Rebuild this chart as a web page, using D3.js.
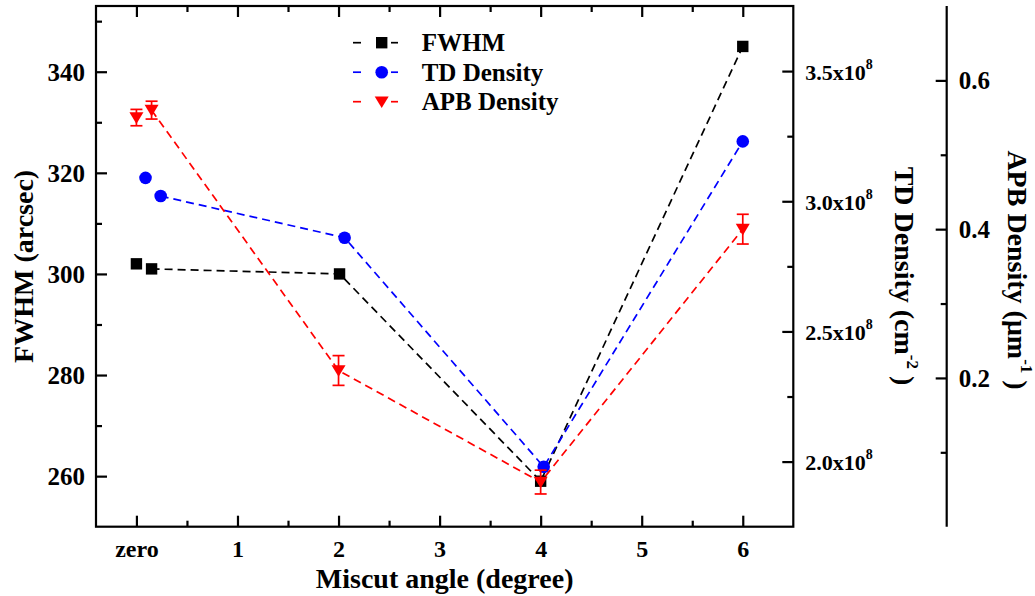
<!DOCTYPE html>
<html>
<head>
<meta charset="utf-8">
<script src="https://cdn.jsdelivr.net/npm/d3@7"></script>
<style>
  html, body { margin: 0; padding: 0; background: #fff; }
  svg { display: block; }
  text { font-family: "Liberation Serif", "Times New Roman", serif; font-weight: bold; fill: #000; }
</style>
</head>
<body>
<svg id="chart" width="1035" height="596"></svg>
<script>
// Miscut angle (degrees); the first entry of each series is the on-axis reference sample
const fwhmAngle = [0, 0.15, 2.01, 4.0, 6.0];
const fwhmValue = [302, 301, 300, 259, 345];            // arcsec

const tdAngle = [0.09, 0.24, 2.06, 4.03, 6.0];
const tdValue = [3.09e8, 3.02e8, 2.86e8, 1.98e8, 3.23e8]; // cm^-2

const apbAngle = [0, 0.15, 2.0, 4.0, 6.0];
const apbValue = [0.55, 0.56, 0.21, 0.06, 0.40];         // um^-1
const apbError = [0.011, 0.012, 0.020, 0.016, 0.020];

// Axis ticks
const xTicks = [0, 1, 2, 3, 4, 5, 6];
const xMinor = [0.5, 1.5, 2.5, 3.5, 4.5, 5.5];
const fwhmTicks = [260, 280, 300, 320, 340];
const fwhmMinor = [270, 290, 310, 330, 350];
const tdTicks = [2.0e8, 2.5e8, 3.0e8, 3.5e8];
const tdMinor = [2.25e8, 2.75e8, 3.25e8];
const apbTicks = [0.2, 0.4, 0.6];
const apbMinor = [0.1, 0.3, 0.5];

const legendLabels = ["FWHM", "TD Density", "APB Density"];

const plotLeft = 96, plotRight = 793.3, plotTop = 6, plotBottom = 526.7, apbAxisX = 946.7;

const svg = d3.select("#chart");

const x = d3.scaleLinear().domain([-0.4, 6.5]).range([plotLeft, plotRight]);
const yF = d3.scaleLinear().domain([250, 353]).range([plotBottom, plotTop]);
const yT = d3.scaleLinear().domain([1.75e8, 3.75e8]).range([plotBottom, plotTop]);
const yA = d3.scaleLinear().domain([0, 0.7]).range([plotBottom, plotTop]);

const AX = 2.2;

function styleAxis(g) {
  g.select(".domain").remove();
  g.selectAll(".tick line").attr("stroke", "#000").attr("stroke-width", AX);
  g.selectAll(".tick text").attr("font-family", null).attr("fill", "#000");
}

// ---- bottom / top x axes
const gx = svg.append("g").attr("transform", `translate(0,${plotBottom})`)
  .call(d3.axisBottom(x).tickValues(xTicks).tickSizeInner(-11).tickSizeOuter(0)
    .tickFormat(d => d === 0 ? "zero" : d3.format("d")(d)));
styleAxis(gx);
gx.selectAll(".tick text").attr("y", 30).attr("dy", 0).attr("font-size", 24);

svg.append("g").attr("transform", `translate(0,${plotBottom})`)
  .call(d3.axisBottom(x).tickValues(xMinor).tickSizeInner(-6).tickSizeOuter(0).tickFormat(""))
  .call(styleAxis);

svg.append("g").attr("transform", `translate(0,${plotTop})`)
  .call(d3.axisTop(x).tickValues(xTicks).tickSizeInner(-11).tickSizeOuter(0).tickFormat(""))
  .call(styleAxis);
svg.append("g").attr("transform", `translate(0,${plotTop})`)
  .call(d3.axisTop(x).tickValues(xMinor).tickSizeInner(-6).tickSizeOuter(0).tickFormat(""))
  .call(styleAxis);

// ---- left FWHM axis
const gyF = svg.append("g").attr("transform", `translate(${plotLeft},0)`)
  .call(d3.axisLeft(yF).tickValues(fwhmTicks).tickSizeInner(-11).tickSizeOuter(0).tickPadding(11));
styleAxis(gyF);
gyF.selectAll(".tick text").attr("font-size", 25).attr("dy", "0.34em");
svg.append("g").attr("transform", `translate(${plotLeft},0)`)
  .call(d3.axisLeft(yF).tickValues(fwhmMinor).tickSizeInner(-6).tickSizeOuter(0).tickFormat(""))
  .call(styleAxis);

// ---- right TD density axis (on the frame)
const gyT = svg.append("g").attr("transform", `translate(${plotRight},0)`)
  .call(d3.axisRight(yT).tickValues(tdTicks).tickSizeInner(-11).tickSizeOuter(0).tickPadding(12));
styleAxis(gyT);
gyT.selectAll(".tick text").each(function (d) {
  const t = d3.select(this).text("").attr("font-size", 22).attr("dy", "0.38em");
  t.append("tspan").text(d3.format(".1f")(d / 1e8) + "x10");
  t.append("tspan").attr("font-size", 14).attr("dy", "-0.8em").text("8");
});
svg.append("g").attr("transform", `translate(${plotRight},0)`)
  .call(d3.axisRight(yT).tickValues(tdMinor).tickSizeInner(-6).tickSizeOuter(0).tickFormat(""))
  .call(styleAxis);

// ---- offset APB density axis
svg.append("line").attr("x1", apbAxisX).attr("x2", apbAxisX).attr("y1", plotTop).attr("y2", plotBottom)
  .attr("stroke", "#000").attr("stroke-width", AX);
const gyA = svg.append("g").attr("transform", `translate(${apbAxisX},0)`)
  .call(d3.axisRight(yA).tickValues(apbTicks).tickSizeInner(-11).tickSizeOuter(0).tickPadding(12)
    .tickFormat(d3.format(".1f")));
styleAxis(gyA);
gyA.selectAll(".tick text").attr("font-size", 25).attr("dy", "0.34em");
svg.append("g").attr("transform", `translate(${apbAxisX},0)`)
  .call(d3.axisRight(yA).tickValues(apbMinor).tickSizeInner(-6).tickSizeOuter(0).tickFormat(""))
  .call(styleAxis);

// ---- plot frame
svg.append("rect").attr("x", plotLeft).attr("y", plotTop)
  .attr("width", plotRight - plotLeft).attr("height", plotBottom - plotTop)
  .attr("fill", "none").attr("stroke", "#000").attr("stroke-width", AX);

// ---- axis titles
svg.append("text").attr("x", (plotLeft + plotRight) / 2).attr("y", 588).attr("text-anchor", "middle")
  .attr("font-size", 28).text("Miscut angle (degree)");

svg.append("text").attr("transform", `translate(33,${(plotTop + plotBottom) / 2}) rotate(-90)`)
  .attr("text-anchor", "middle").attr("font-size", 28).text("FWHM (arcsec)");

const tdTitle = svg.append("text").attr("transform", "translate(894.5,276) rotate(90)")
  .attr("text-anchor", "middle").attr("font-size", 28);
tdTitle.append("tspan").text("TD Density (cm");
tdTitle.append("tspan").attr("font-size", 17).attr("dy", "-0.75em").text("-2");
tdTitle.append("tspan").attr("dy", "0.45em").text(" )");

const apbTitle = svg.append("text").attr("transform", "translate(1008,270) rotate(90)")
  .attr("text-anchor", "middle").attr("font-size", 28);
apbTitle.append("tspan").text("APB Density (\u03BCm");
apbTitle.append("tspan").attr("font-size", 17).attr("dy", "-0.75em").text("-1");
apbTitle.append("tspan").attr("dy", "0.45em").text(" )");

// ---- marker shapes
const squarePath = "M-5.7,-5.7H5.7V5.7H-5.7Z";
const circlePath = d3.arc()({ innerRadius: 0, outerRadius: 6.3, startAngle: 0, endAngle: 2 * Math.PI });
const triPath = "M-7,-5.3H7L0,6.3Z";

const series = [
  { xs: fwhmAngle, ys: fwhmValue, scale: yF, color: "#000000", marker: squarePath },
  { xs: tdAngle, ys: tdValue, scale: yT, color: "#0000ff", marker: circlePath },
  { xs: apbAngle, ys: apbValue, scale: yA, color: "#ff0000", marker: triPath, err: apbError }
];

const line = d3.line().x(d => d.px).y(d => d.py);
const plot = svg.append("g");

series.forEach(s => {
  const pts = s.xs.map((a, i) => ({ px: x(a), py: s.scale(s.ys[i]), v: s.ys[i], e: s.err ? s.err[i] : 0 }));
  // dashed trend through the miscut samples (reference sample stands alone)
  plot.append("path").attr("d", line(pts.slice(1)))
    .attr("fill", "none").attr("stroke", s.color).attr("stroke-width", 1.7)
    .attr("stroke-dasharray", "8,5");
  if (s.err) {
    const eb = plot.append("g").attr("stroke", s.color).attr("stroke-width", 1.7);
    pts.forEach(p => {
      const y1 = s.scale(p.v - p.e), y2 = s.scale(p.v + p.e);
      eb.append("line").attr("x1", p.px).attr("x2", p.px).attr("y1", y1).attr("y2", y2);
      eb.append("line").attr("x1", p.px - 6).attr("x2", p.px + 6).attr("y1", y1).attr("y2", y1);
      eb.append("line").attr("x1", p.px - 6).attr("x2", p.px + 6).attr("y1", y2).attr("y2", y2);
    });
  }
  plot.selectAll(null).data(pts).enter().append("path")
    .attr("d", s.marker).attr("transform", p => `translate(${p.px},${p.py})`)
    .attr("fill", s.color);
});

// ---- legend
const legend = svg.append("g");
series.forEach((s, i) => {
  const cy = 42.7 + i * 29.5;
  legend.append("line").attr("x1", 353).attr("x2", 361).attr("y1", cy).attr("y2", cy)
    .attr("stroke", s.color).attr("stroke-width", 1.7);
  legend.append("line").attr("x1", 391).attr("x2", 398).attr("y1", cy).attr("y2", cy)
    .attr("stroke", s.color).attr("stroke-width", 1.7);
  legend.append("path").attr("d", s.marker).attr("transform", `translate(381.7,${cy})`).attr("fill", s.color);
  legend.append("text").attr("x", 421.7).attr("y", cy + 8.5).attr("font-size", 25).text(legendLabels[i]);
});
</script>
</body>
</html>
